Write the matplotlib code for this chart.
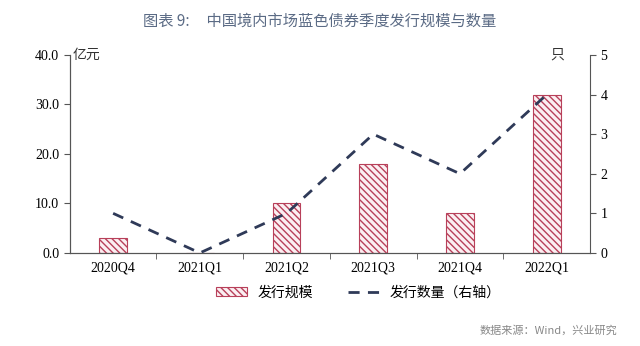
import matplotlib
matplotlib.use("Agg")
import matplotlib.pyplot as plt
import numpy as np

# === DATOS ===
quarters = ["2020Q4", "2021Q1", "2021Q2", "2021Q3", "2021Q4", "2022Q1"]
issue_size = [3.0, 0.0, 10.0, 18.0, 8.0, 32.0]   # 亿元
issue_count = [1, 0, 1, 3, 2, 4]                 # 只

plt.rcParams["font.family"] = ["Liberation Serif", "Noto Sans CJK SC"]
plt.rcParams["hatch.color"] = "#B8405A"
plt.rcParams["hatch.linewidth"] = 1.0

fig = plt.figure(figsize=(6.4, 3.46), dpi=100)
ax = fig.add_axes([0.109, 0.269, 0.813, 0.572])
ax2 = ax.twinx()

x = np.arange(len(quarters))
bars = ax.bar(x, issue_size, width=0.32, color="#FBEFF2", edgecolor="#B8405A",
              hatch="\\\\\\\\\\", linewidth=0.8, label="发行规模", zorder=2)
line, = ax2.plot(x, issue_count, color="#2F3A58", linewidth=2, linestyle=(0, (4, 3)),
                 label="发行数量（右轴）")

ax.set_xlim(-0.5, len(quarters) - 0.5)
ax.set_ylim(0, 40)
ax.set_yticks(np.arange(0, 41, 10))
ax.set_yticklabels([f"{v:.1f}" for v in np.arange(0, 41, 10)], fontsize=10)
ax2.set_ylim(0, 5)
ax2.set_yticks(range(6))
ax2.tick_params(axis="y", labelsize=10, color="#555555", length=4)
ax.tick_params(axis="y", color="#555555", length=4)

ax.set_xticks(x)
ax.set_xticklabels(quarters, fontsize=10)
ax.set_xticks(np.arange(0.5, len(quarters) - 1, 1), minor=True)
ax.tick_params(axis="x", which="major", length=0, pad=6)
ax.tick_params(axis="x", which="minor", length=4, direction="out", color="#555555")

for a in (ax, ax2):
    a.spines["top"].set_visible(False)
    for s in ("left", "right", "bottom"):
        a.spines[s].set_color("#555555")
ax.spines["right"].set_visible(False)

ax.text(0.005, 1.0, "亿元", transform=ax.transAxes, fontsize=10, va="center", ha="left",
        family=["Noto Sans CJK SC"], color="#333333")
ax2.text(0.95, 1.0, "只", transform=ax.transAxes, fontsize=10, va="center", ha="right",
         family=["Noto Sans CJK SC"], color="#333333")

fig.text(0.5, 0.94, "图表 9:     中国境内市场蓝色债券季度发行规模与数量", ha="center", va="center",
         fontsize=11, color="#5B6B85", family=["Noto Sans CJK SC"])

leg = fig.legend(handles=[bars, line], loc="center", bbox_to_anchor=(0.56, 0.155), ncol=2,
                 frameon=False, fontsize=10, handlelength=2.2, columnspacing=2.5,
                 prop={"family": ["Noto Sans CJK SC"], "size": 10})

fig.text(0.965, 0.045, "数据来源：Wind，兴业研究", ha="right", va="center", fontsize=8,
         color="#888888", family=["Noto Sans CJK SC"])

plt.savefig("out.png", dpi=100)
